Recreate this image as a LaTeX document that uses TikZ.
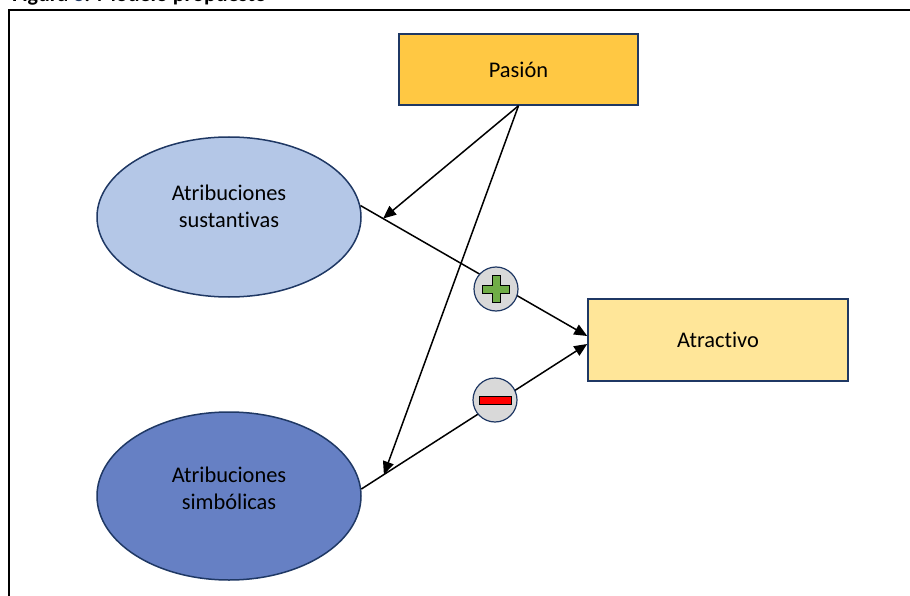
\documentclass[tikz,border=0pt]{standalone}
\usepackage{fontspec}
\setmainfont{Carlito}[Ligatures=NoCommon]
\usetikzlibrary{arrows.meta,shapes.geometric}
\definecolor{navy}{RGB}{31,56,100}
\definecolor{pasion}{RGB}{255,200,67}
\definecolor{atract}{RGB}{255,230,153}
\definecolor{sustan}{RGB}{180,199,231}
\definecolor{simbol}{RGB}{102,128,196}
\definecolor{signgray}{RGB}{217,217,217}
\definecolor{plusgreen}{RGB}{112,173,71}
\tikzset{
  txt/.style = {font=\fontsize{22.4}{27}\selectfont, align=center},
  var_box/.style = {txt, rectangle, draw=navy, line width=1.5pt},% variable observada
  var_ell/.style = {ellipse, draw=navy, line width=1.5pt,
    minimum width=264pt, minimum height=160pt},% atribuciones
  sign_c/.style = {circle, draw=navy, fill=signgray, line width=1.2pt,
    minimum size=44pt, inner sep=0pt},
  sign_s/.style = {draw=black, line width=1pt},
  path_l/.style = {line width=1.5pt, -{Triangle[length=13pt,width=11pt]}},
}

\begin{document}
\begin{tikzpicture}[x=1pt,y=-1pt]
  \useasboundingbox (0,0) rectangle (910,596);

  \node[anchor=base west, inner sep=0pt,
    font=\bfseries\fontsize{22}{26}\selectfont] (title) at (12,2)
    {Figura \textcolor{navy}{3}. Modelo propuesto};
  \draw[line width=2pt] (9,596) -- (9,10) -- (910,10);

  \node[var_box, fill=pasion, minimum width=239pt, minimum height=71pt] (pas) at (518.5,69.5) {Pasión};
  \node[var_box, fill=atract, minimum width=260pt, minimum height=82pt] (atr) at (718,340) {Atractivo};

  \node[var_ell, fill=sustan,
    label={[txt,yshift=11pt]center:{Atribuciones\\sustantivas}}] (sus) at (229,217) {};
  \node[var_ell, fill=simbol, minimum height=168pt,
    label={[txt,yshift=8pt]center:{Atribuciones\\simbólicas}}] (sim) at (229,496) {};

  % efectos directos
  \path[path_l] (sus.5) edge coordinate[pos=0.1] (m1) ([yshift=4pt]atr.west);
  \path[path_l] (sim.3) edge coordinate[pos=0.1] (m2) ([yshift=-4pt]atr.west);

  % moderacion
  \path[path_l] (pas.south) edge (m1);
  \path[path_l] (pas.south) edge (m2);

  % signos
  \node[sign_c] (plus) at (496,289) {};
  \node[sign_c] (minus) at (495,400) {};
  \begin{scope}[shift={(plus.center)}]
    \filldraw[sign_s, fill=plusgreen] (-4,-13.5) -- (4,-13.5) -- (4,-4) -- (13.5,-4)
      -- (13.5,4) -- (4,4) -- (4,13.5) -- (-4,13.5) -- (-4,4) -- (-13.5,4)
      -- (-13.5,-4) -- (-4,-4) -- cycle;
  \end{scope}
  \begin{scope}[shift={(minus.center)}]
    \filldraw[sign_s, fill=red] (-16,-4) rectangle (16,4);
  \end{scope}
\end{tikzpicture}
\end{document}
